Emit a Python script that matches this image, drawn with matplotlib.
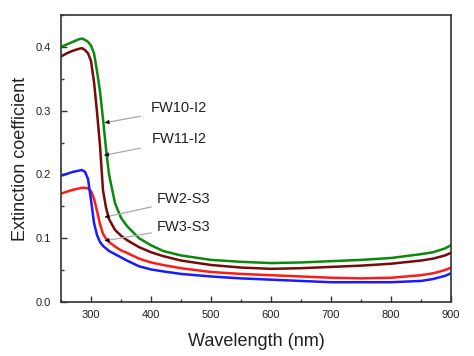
import numpy as np
import matplotlib
matplotlib.use("Agg")
import matplotlib.pyplot as plt
from matplotlib.ticker import MultipleLocator

plt.rcParams['font.family'] = ['Liberation Sans', 'DejaVu Sans']

# wavelength grid (nm) and values
wl = [250, 260, 270, 280, 285, 290, 295, 300, 305, 310, 315, 320, 325, 330, 340, 350,
      360, 380, 400, 420, 450, 500, 550, 600, 650, 700, 750, 800, 850, 870, 890, 900]

fw10_i2 = [0.400, 0.404, 0.408, 0.412, 0.413, 0.411, 0.408, 0.402, 0.390, 0.362, 0.330, 0.287,
           0.240, 0.200, 0.155, 0.132, 0.119, 0.100, 0.089, 0.080, 0.073, 0.066, 0.063, 0.061,
           0.062, 0.064, 0.066, 0.069, 0.075, 0.078, 0.084, 0.089]
fw11_i2 = [0.385, 0.390, 0.394, 0.397, 0.398, 0.395, 0.390, 0.378, 0.345, 0.298, 0.245, 0.175,
           0.148, 0.130, 0.113, 0.104, 0.097, 0.086, 0.078, 0.072, 0.065, 0.058, 0.054, 0.052,
           0.053, 0.055, 0.057, 0.060, 0.065, 0.068, 0.073, 0.077]
fw2_s3 = [0.198, 0.201, 0.204, 0.206, 0.207, 0.204, 0.193, 0.160, 0.124, 0.105, 0.094, 0.088,
          0.084, 0.080, 0.075, 0.070, 0.065, 0.056, 0.051, 0.048, 0.044, 0.040, 0.037, 0.035,
          0.033, 0.031, 0.031, 0.031, 0.033, 0.036, 0.041, 0.045]
fw3_s3 = [0.170, 0.173, 0.176, 0.178, 0.179, 0.179, 0.178, 0.174, 0.162, 0.143, 0.122, 0.107,
          0.099, 0.094, 0.087, 0.081, 0.077, 0.068, 0.062, 0.058, 0.053, 0.047, 0.044, 0.042,
          0.040, 0.038, 0.037, 0.038, 0.042, 0.045, 0.050, 0.054]

labels = ["FW10-I2", "FW11-I2", "FW2-S3", "FW3-S3"]
label_xy = [(399, 0.304), (402, 0.255), (409, 0.161), (410, 0.118)]
tail_xy = [(387, 0.292), (387, 0.242), (405, 0.150), (405, 0.109)]
head_xy = [(323, 0.281), (322, 0.230), (323, 0.133), (323, 0.096)]

fig = plt.figure(figsize=(4.74, 3.56), dpi=100)
ax = fig.add_axes([0.1287, 0.1517, 0.8228, 0.8062])

ax.plot(wl, fw10_i2, color='#0a8a0a', lw=1.8)
ax.plot(wl, fw11_i2, color='#7a0a0a', lw=1.8)
ax.plot(wl, fw3_s3, color='#ff1a1a', lw=1.8)
ax.plot(wl, fw2_s3, color='#1a1aff', lw=1.8)

for lab, txy, t, h in zip(labels, label_xy, tail_xy, head_xy):
    ax.text(txy[0], txy[1], lab, fontsize=10.5, color='#222222', va='center', ha='left')
    ax.annotate('', xy=h, xytext=t,
                arrowprops=dict(arrowstyle='-', color='#aaaaaa', lw=0.9))
    # small dark head
    d = (t[0] - h[0], t[1] - h[1])
    ax.annotate('', xy=h, xytext=(h[0] + d[0] * 0.08, h[1] + d[1] * 0.08),
                arrowprops=dict(arrowstyle='-|>', color='black', lw=0.6, mutation_scale=6))

ax.set_xlim(250, 900)
ax.set_ylim(0, 0.45)
ax.xaxis.set_major_locator(MultipleLocator(100))
ax.xaxis.set_minor_locator(MultipleLocator(50))
ax.yaxis.set_major_locator(MultipleLocator(0.1))
ax.yaxis.set_minor_locator(MultipleLocator(0.05))
ax.tick_params(which='both', direction='in', color='#333333', labelsize=8, labelcolor='#222222')
ax.tick_params(which='major', length=4, width=1)
ax.tick_params(which='minor', length=2.5, width=1)
ax.tick_params(axis='y', pad=7)
ax.tick_params(axis='x', pad=6)
ax.set_yticks([0.0, 0.1, 0.2, 0.3, 0.4])
ax.set_yticklabels(['0.0', '0.1', '0.2', '0.3', '0.4'])
for s in ax.spines.values():
    s.set_color('#333333')
    s.set_linewidth(1.2)

ax.set_xlabel('Wavelength (nm)', fontsize=13, color='#222222', labelpad=9)
ax.set_ylabel('Extinction coefficient', fontsize=13, color='#222222', labelpad=5)

fig.savefig('out.png', dpi=100)
